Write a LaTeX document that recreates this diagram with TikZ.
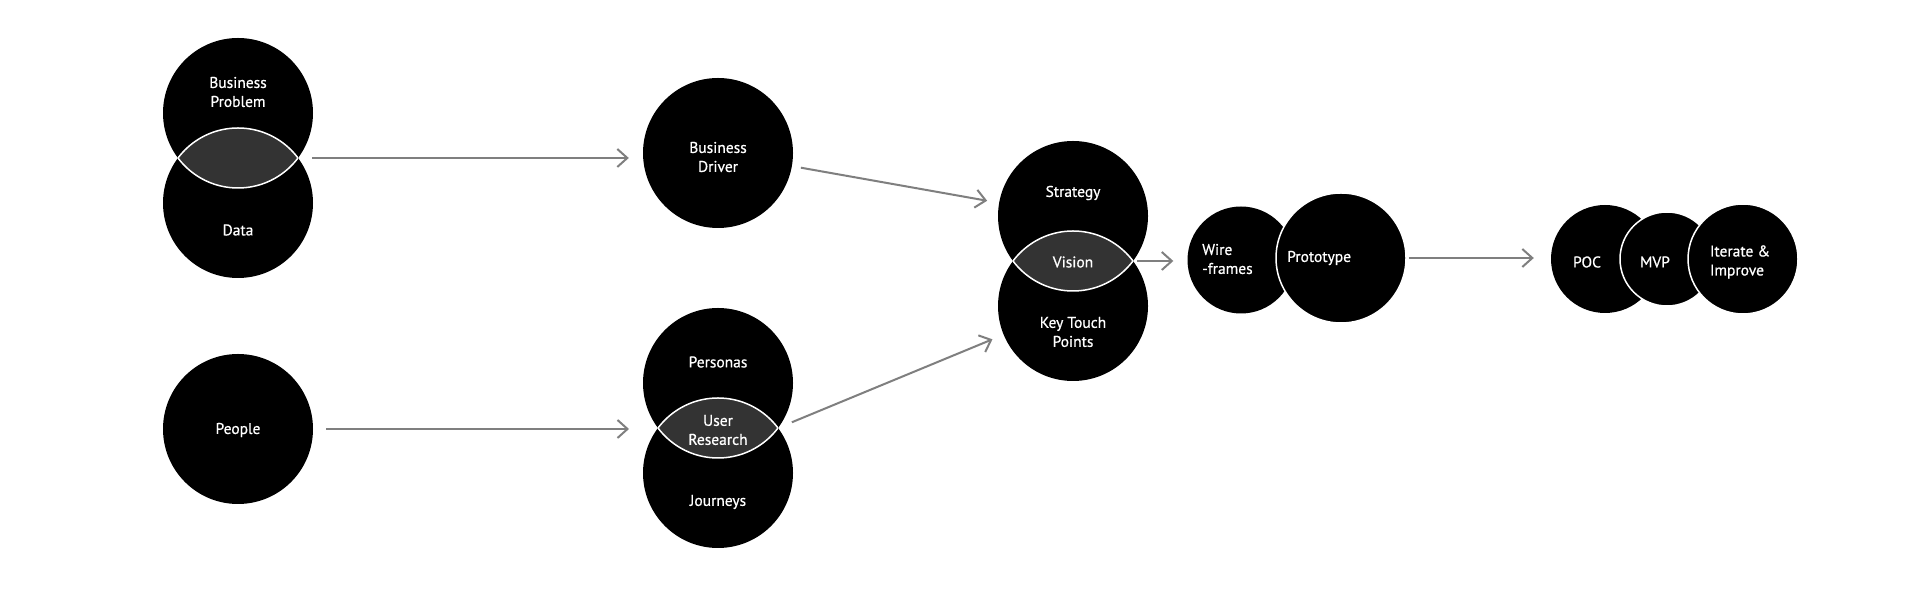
\documentclass[tikz,border=0pt]{standalone}
\usepackage{fontspec}
\setmainfont{PT Sans}
\newfontfamily\dinlike{PT Sans}[FakeBold=0.7]
\usetikzlibrary{arrows.meta}
\definecolor{lensgray}{HTML}{333333}
\definecolor{arrowgray}{HTML}{7F7F7F}
\begin{document}
\begin{tikzpicture}[x=1pt,y=1pt,
  blob/.style={circle, fill=black, inner sep=0pt, minimum size=#1},
  ring/.style={circle, fill=black, draw=white, line width=1.5pt, inner sep=0pt, minimum size=#1},
  lbl/.style={text=white, font=\dinlike\fontsize{15.5}{19}\selectfont, align=center, inner sep=0pt},
  lbll/.style={text=white, font=\dinlike\fontsize{15.5}{19}\selectfont, align=left, inner sep=0pt},
  flow/.style={draw=arrowgray, line width=2pt, -{Straight Barb[length=10pt,width=18pt,line width=2pt]}},
  tipbar/.style={inner sep=0pt, outer sep=0pt, minimum width=#1, minimum height=0pt},
  lensline/.style={draw=white, line width=1.5pt}
]
\useasboundingbox (0,0) rectangle (1920,612);
\fill[white] (0,0) rectangle (1920,612);

% ---------- Business Problem / Data ----------
\node[blob=150pt] (bp) at (238,499) {};
\node[blob=150pt] (data) at (238,409) {};
\begin{scope}\clip (bp.center) circle (75pt); \fill[lensgray] (data.center) circle (75pt);\end{scope}
\begin{scope}\clip (bp.center) circle (75pt); \draw[lensline] (data.center) circle (75pt);\end{scope}
\begin{scope}\clip (data.center) circle (75pt); \draw[lensline] (bp.center) circle (75pt);\end{scope}
\node[tipbar=120pt] (l1) at (238,454) {};
\node[lbl] (bpt) at (238,520) {Business\\Problem};
\node[lbl] (datat) at (238,382) {Data};

% ---------- People ----------
\node[blob=150pt] (people) at (238,183) {};
\node[lbl] (peoplet) at (238,182) {People};

% ---------- Business Driver ----------
\node[blob=150pt] (bd) at (718,459) {};
\node[lbl] (bdt) at (718,455) {Business\\Driver};

% ---------- Personas / Journeys ----------
\node[blob=150pt] (pers) at (718,229) {};
\node[blob=150pt] (jour) at (718,139) {};
\begin{scope}\clip (pers.center) circle (75pt); \fill[lensgray] (jour.center) circle (75pt);\end{scope}
\begin{scope}\clip (pers.center) circle (75pt); \draw[lensline] (jour.center) circle (75pt);\end{scope}
\begin{scope}\clip (jour.center) circle (75pt); \draw[lensline] (pers.center) circle (75pt);\end{scope}
\node[tipbar=120pt] (l2) at (718,184) {};
\node[lbl] (perst) at (718,250) {Personas};
\node[lbl] (urt) at (718,182) {User\\Research};
\node[lbl] (jourt) at (718,110) {Journeys};

% ---------- Strategy / Key Touch Points ----------
\node[blob=150pt] (strat) at (1073,396) {};
\node[blob=150pt] (key) at (1073,306) {};
\begin{scope}\clip (strat.center) circle (75pt); \fill[lensgray] (key.center) circle (75pt);\end{scope}
\begin{scope}\clip (strat.center) circle (75pt); \draw[lensline] (key.center) circle (75pt);\end{scope}
\begin{scope}\clip (key.center) circle (75pt); \draw[lensline] (strat.center) circle (75pt);\end{scope}
\node[tipbar=120pt] (l3) at (1073,351) {};
\node[lbl] (stratt) at (1073,419) {Strategy};
\node[lbl] (vist) at (1073,350) {Vision};
\node[lbl] (keyt) at (1073,280) {Key Touch\\Points};

% ---------- Wire-frames / Prototype ----------
\node[blob=107pt] (wire) at (1241,352) {};
\node[ring=130pt] (proto) at (1341,354) {};
\node[lbll, anchor=west] (wiret) at (1202,353) {Wire\\-frames};
\node[lbll, anchor=west] (protot) at (1287,354) {Prototype};

% ---------- POC / MVP / Iterate ----------
\node[blob=108pt] (poc) at (1605,353) {};
\node[ring=94pt] (mvp) at (1667,353) {};
\node[ring=110pt] (iter) at (1743,353) {};
\node[lbl] (poct) at (1587,350) {POC};
\node[lbl] (mvpt) at (1655,350) {MVP};
\node[lbll] (itert) at (1740,350) {Iterate \&\\Improve};

% ---------- connectors ----------
\draw[flow, shorten <=14pt, shorten >=14pt] (l1.east) -- (l1.east -| bd.west);
\draw[flow, shorten <=13pt, shorten >=29pt] (people.east) -- (people.east -| l2.west);
\draw[flow, shorten <=9pt, shorten >=12pt] (bd) -- (strat);
\draw[flow, shorten <=15pt, shorten >=12pt] (l2.east) -- (key);
\draw[flow, shorten <=4pt, shorten >=14pt] (l3.east) -- (l3.east -| wire.west);
\draw[flow, shorten <=2pt, shorten >=17pt] (proto.east) -- (proto.east -| poc.west);
\end{tikzpicture}
\end{document}
